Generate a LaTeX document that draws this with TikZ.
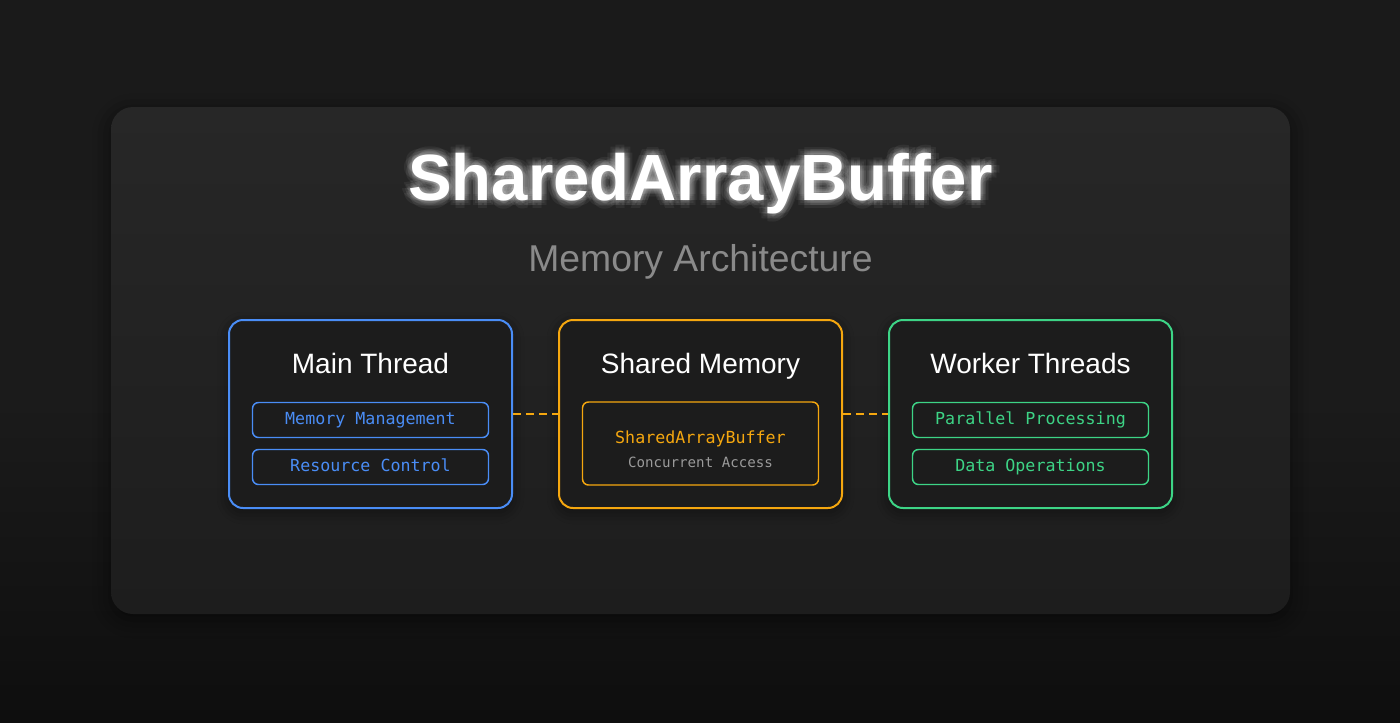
\documentclass[tikz,border=0pt]{standalone}
\usepackage{fontspec}
\setmainfont{Liberation Sans}
\setmonofont{DejaVu Sans Mono}
\usetikzlibrary{positioning,calc,shadows.blur}

\definecolor{bgtop}{HTML}{1A1A1A}
\definecolor{bgmid}{HTML}{1B1B1B}
\definecolor{bgbottom}{HTML}{0E0E0E}
\definecolor{paneltop}{HTML}{272727}
\definecolor{panelbottom}{HTML}{1D1D1D}
\definecolor{boxfill}{HTML}{1C1C1C}
\definecolor{mainblue}{HTML}{4A8DF6}
\definecolor{sharedamber}{HTML}{F5A70F}
\definecolor{workergreen}{HTML}{3DD486}
\definecolor{subgray}{HTML}{8A8A8A}
\definecolor{notegray}{HTML}{9A9A9A}

\tikzset{
  threadbox/.style={draw=#1, line width=1.5pt, rounded corners=10.5pt, fill=boxfill,
    minimum width=283*0.75pt, minimum height=188*0.75pt,
    blur shadow={shadow xshift=0pt, shadow yshift=-3pt, shadow blur radius=9pt, shadow opacity=45}},
  itembox/.style={draw=#1, text=#1, line width=1.1pt, rounded corners=4.5pt, fill=boxfill,
    minimum width=236*0.75pt, minimum height=35*0.75pt, inner sep=0pt,
    font=\ttfamily\fontsize{12.5pt}{15pt}\selectfont, text height=0.73em, text depth=0pt},
  boxtitle/.style={anchor=base, text=white, font=\fontsize{21pt}{25pt}\selectfont},
  titletext/.style={anchor=base, font=\bfseries\fontsize{49pt}{58pt}\selectfont},
  link/.style={draw=sharedamber, line width=1.5pt, dash pattern=on 6pt off 3.75pt}
}

\begin{document}
\begin{tikzpicture}[x=0.75pt, y=-0.75pt]
  \useasboundingbox (0,0) rectangle (1400,722);
  % backdrop and panel
  \shade[top color=bgtop, bottom color=bgmid] (0,0) rectangle (1400,400);
  \shade[top color=bgmid, bottom color=bgbottom] (0,400) rectangle (1400,722);
  \shade[top color=paneltop, bottom color=panelbottom, rounded corners=16.5pt,
    blur shadow={shadow xshift=0pt, shadow yshift=-4pt, shadow blur radius=14pt, shadow opacity=50}]
    (111,107) rectangle (1290,614);

  % heading with glow
  \coordinate (titlepos) at (700.5,200);
  \foreach \a in {0,45,...,315}
    \foreach \r in {2.5,5,8}
      \node[titletext, text=white, opacity=0.06] at ($(titlepos)+(\a:\r)$) {SharedArrayBuffer};
  \node[titletext, text=white] (title) at (titlepos) {SharedArrayBuffer};
  \node[anchor=base, text=subgray, font=\fontsize{28pt}{33pt}\selectfont] (subtitle) at (700.5,271) {Memory Architecture};

  % thread boxes
  \node[threadbox=mainblue] (main) at (370.5,414) {};
  \node[threadbox=sharedamber] (shared) at (700.5,414) {};
  \node[threadbox=workergreen] (worker) at (1030.5,414) {};

  \node[boxtitle] (mainlabel) at (370.5,373) {Main Thread};
  \node[boxtitle] (sharedlabel) at (700.5,373) {Shared Memory};
  \node[boxtitle] (workerlabel) at (1030.5,373) {Worker Threads};

  % items
  \node[itembox=mainblue] (mainA) at (370.5,420) {Memory Management};
  \node[itembox=mainblue] (mainB) at (370.5,467) {Resource Control};
  \node[itembox=workergreen] (workerA) at (1030.5,420) {Parallel Processing};
  \node[itembox=workergreen] (workerB) at (1030.5,467) {Data Operations};

  \node[itembox=sharedamber, minimum height=83*0.75pt] (sab) at (700.5,443.5) {};
  \node[anchor=base, text=sharedamber, font=\ttfamily\fontsize{12.5pt}{15pt}\selectfont] (sabname) at (700.5,443) {SharedArrayBuffer};
  \node[anchor=base, text=notegray, font=\ttfamily\fontsize{10.6pt}{13pt}\selectfont] (sabnote) at (700.5,467) {Concurrent Access};

  % links
  \draw[link] (main.east) -- (shared.west);
  \draw[link] (shared.east) -- (worker.west);
\end{tikzpicture}
\end{document}
